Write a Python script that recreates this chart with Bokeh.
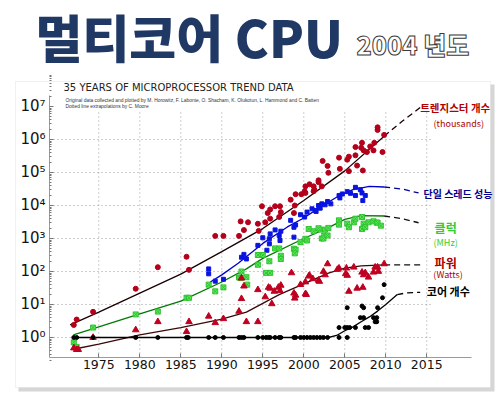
from bokeh.plotting import figure
from bokeh.models import Range1d, FixedTicker, CustomJSTickFormatter, Label, BoxAnnotation
from bokeh.embed import file_html
from bokeh.resources import INLINE

# ---------------- data ----------------
x_ticks = [1975, 1980, 1985, 1990, 1995, 2000, 2005, 2010, 2015]
y_ticks = [1, 10, 100, 1000, 10000, 100000, 1000000, 10000000]
grid_y = [1, 10, 100, 1000, 10000, 100000, 1000000]

# transistors (thousands)
tr_year = [1971.95, 1972.3, 1974.3, 1979.5, 1982.2, 1985.7, 1986.0, 1989.2, 1990.2, 1992.1,
           1992.3, 1993.2, 1992.7, 1994.4, 1994.5, 1995.3, 1995.9, 1994.9, 1995.6, 1995.9,
           1996.5, 1997.1, 1997.0, 1997.2, 1998.4, 1999.0, 1998.9, 1998.8, 1999.7, 2000.2,
           2000.1, 2001.2, 2001.2, 2001.8, 2002.3, 2002.9, 2003.0, 2000.7, 2001.3, 2000.2,
           2001.8, 2002.2, 2004.3, 2004.4, 2005.5, 2005.3, 2005.5, 2006.3, 2006.3, 2006.5,
           2007.1, 2007.0, 2007.3, 2007.7, 2007.2, 2008.1, 2008.5, 2008.6, 2009.0, 2009.0,
           2009.6, 2009.8]
tr_val = [2.4, 3.5, 6, 30, 135, 280, 112, 1200, 1200, 1200,
          3300, 3100, 1800, 2800, 1700, 3100, 4000, 9500, 5900, 7600,
          9500, 9500, 4500, 6300, 15000, 22000, 10000, 5900, 22000, 38000,
          27000, 27000, 38000, 58000, 224000, 158000, 98000, 44000, 30000, 24000,
          51000, 38000, 282000, 129000, 110000, 245000, 302000, 590000, 331000, 162000,
          794000, 562000, 468000, 417000, 115000, 617000, 468000, 794000, 2340000, 1950000,
          417000, 1380000]

# single-thread performance
st_year = [1988.4, 1988.4, 1989.2, 1990.2, 1992.4, 1992.7, 1993.0, 1994.4, 1995.0, 1995.8,
           1995.9, 1996.5, 1997.2, 1997.0, 1997.1, 1995.8, 1995.5, 1998.4, 1998.8, 1999.0,
           1998.8, 1999.6, 2000.1, 2000.4, 2001.0, 2001.4, 2001.8, 2002.2, 2002.9, 2001.5,
           2002.0, 2002.6, 2003.3, 2004.3, 2004.4, 2004.7, 2005.3, 2005.7, 2006.3, 2006.3,
           2006.9, 2007.1, 2007.2, 2007.5]
st_val = [120, 85, 51, 58, 270, 330, 240, 620, 1050, 980,
          1380, 1820, 1660, 1230, 870, 690, 440, 3550, 2190, 2570,
          1100, 5250, 4470, 6310, 7940, 7080, 10000, 11200, 13200, 6610,
          8320, 10500, 11200, 20000, 17000, 22400, 26300, 23400, 35500, 20000,
          30200, 24000, 14100, 20000]

# clock (MHz)
ck_year = [1971.95, 1972.3, 1974.3, 1979.5, 1982.2, 1985.7, 1986.0, 1988.4, 1989.2, 1990.2,
           1992.1, 1992.4, 1992.3, 1993.0, 1993.1, 1994.4, 1994.4, 1995.0, 1995.4, 1995.9,
           1995.8, 1996.5, 1997.0, 1997.2, 1997.2, 1998.8, 1999.0, 1998.9, 1999.6, 2000.2,
           2000.6, 2001.2, 2002.0, 2002.2, 2002.6, 2002.5, 2000.4, 2001.8, 2002.4, 2002.9,
           2003.0, 2004.3, 2004.3, 2005.3, 2005.5, 2006.1, 2006.3, 2007.1, 2007.3, 2007.1,
           2007.5, 2007.9, 2008.5, 2008.9, 2009.0, 2009.4]
ck_val = [0.71, 0.51, 2.0, 5.0, 6.1, 16, 16, 40, 25, 33,
          66, 100, 63, 67, 40, 316, 160, 316, 91, 91,
          204, 500, 500, 300, 240, 490, 457, 355, 776, 980,
          1950, 1660, 1860, 1000, 1860, 1230, 870, 2040, 1000, 1230,
          2090, 3550, 2630, 2820, 2190, 3090, 3980, 4470, 2820, 1950,
          2190, 3090, 3310, 3020, 3020, 2450]

# power (Watts)
pw_year = [1971.95, 1972.3, 1972.5, 1974.3, 1979.5, 1982.2, 1985.7, 1986.0, 1988.4, 1989.2,
           1990.2, 1992.1, 1992.4, 1992.4, 1992.7, 1993.0, 1994.4, 1994.4, 1995.3, 1995.7,
           1995.9, 1996.1, 1996.4, 1996.9, 1997.2, 1997.1, 1998.8, 1999.0, 1998.9, 1998.5,
           2000.2, 2000.7, 2001.1, 2001.8, 2002.4, 2002.9, 2000.2, 1999.6, 2002.6, 2001.9,
           2000.6, 2000.3, 2004.1, 2004.3, 2005.2, 2005.3, 2005.1, 2005.5, 2006.1, 2006.5,
           2007.2, 2007.1, 2007.3, 2007.5, 2007.9, 2008.5, 2008.7, 2009.0, 2009.1, 2009.8]
pw_val = [0.48, 0.43, 0.43, 1.0, 1.7, 3.0, 1.5, 3.0, 4.4, 2.8,
          3.7, 6.2, 15, 63, 36, 3.0, 28, 3.0, 17, 33,
          31, 10.5, 25, 33, 38, 26, 22, 19, 15.5, 91,
          21, 76, 60, 54, 100, 170, 48, 40, 79, 50,
          72, 20, 115, 126, 126, 76, 85, 25, 135, 31,
          33, 95, 79, 91, 67, 95, 135, 135, 100, 170]

# number of cores
co_year = [1971.95, 1972.3, 1974.3, 1979.5, 1982.2, 1985.7, 1985.9, 1988.4, 1989.2, 1990.2,
           1992.1, 1992.4, 1992.7, 1994.4, 1995.0, 1995.4, 1995.7, 1995.9, 1996.5, 1997.0,
           1997.2, 1998.8, 1999.0, 1999.6, 2000.0, 2000.4, 2000.8, 2001.2, 2001.6, 2002.0,
           2002.4, 2002.9, 2004.3, 2005.3, 2004.3, 2005.0, 2005.3, 2005.6, 2006.3, 2006.9,
           2007.3, 2007.9, 2007.5, 2007.1, 2007.3, 2008.5, 2008.7, 2008.9, 2008.9, 2009.0,
           2009.6, 2009.8, 2005.3]
co_val = [1, 1, 1, 1, 1, 1, 1, 1, 1, 1,
          1, 1, 1, 1, 1, 1, 1, 1, 1, 1,
          1, 1, 1, 1, 1, 1, 1, 1, 1, 1,
          1, 1, 1, 1, 2, 2, 2, 2, 2, 4,
          4, 2, 2, 9, 8, 4, 3, 3, 4, 8,
          16, 40, 8]

# trend curves (solid part, then dotted extrapolation)
tr_fit_year = [1971.5, 1975, 1980, 1985, 1990, 1995, 2000, 2005, 2009.8]
tr_fit_val = [2.4, 5.9, 22, 83, 400, 2000, 14100, 112000, 1260000]
tr_ext_year = [2009.8, 2012, 2014.2]
tr_ext_val = [1260000, 3550000, 9300000]

st_fit_year = [1988.6, 1990, 1992, 1995, 1998, 2000, 2002, 2004, 2006, 2008, 2009.8]
st_fit_val = [48, 79, 178, 710, 2240, 4170, 8900, 17800, 30200, 38000, 36300]
st_ext_year = [2009.8, 2012, 2014]
st_ext_val = [36300, 31600, 24000]

ck_fit_year = [1971.9, 1975, 1980, 1985, 1990, 1993, 1995, 2000, 2003, 2005, 2007, 2009.8]
ck_fit_val = [1.2, 2.1, 5.2, 12.6, 48, 120, 250, 1000, 2140, 3800, 4900, 4800]
ck_ext_year = [2009.8, 2012, 2014]
ck_ext_val = [4800, 4000, 3000]

pw_fit_year = [1971.9, 1975, 1980, 1985, 1990, 1993, 1997, 2000, 2003, 2005, 2007, 2009.8]
pw_fit_val = [0.44, 0.63, 1.2, 2.0, 3.6, 5.9, 20, 42, 89, 126, 148, 158]
pw_ext_year = [2009.8, 2012, 2014.2]
pw_ext_val = [158, 158, 158]

co_fit_year = [1971.9, 2003, 2004, 2005, 2006, 2007, 2008, 2009, 2010, 2011.4]
co_fit_val = [1, 1, 1.15, 1.6, 2.1, 3.0, 4.2, 6.3, 10, 20]
co_ext_year = [2011.4, 2012.5, 2014.2]
co_ext_val = [20, 22.4, 23.4]

# ---------------- figure ----------------
# the frame covers the whole canvas; the axes are pinned inside it
X0, X1 = 1963.01, 2023.87
Y0, Y1 = 10 ** -1.788, 10 ** 10.212
XA, YA = 1968.99, 10 ** -0.606          # axis positions
XE, YE = 2020.45, 10 ** 7.333           # axis ends

p = figure(width=499, height=396, output_backend="svg", toolbar_location=None, title=None,
           y_axis_type="log", x_range=Range1d(X0, X1), y_range=Range1d(Y0, Y1),
           min_border=0, min_border_left=0, min_border_right=0,
           min_border_top=0, min_border_bottom=0)
p.grid.visible = False
p.outline_line_color = None
p.background_fill_color = "white"
p.border_fill_color = "white"

# panel with shadow (screen units: x from left, y from bottom)
p.add_layout(BoxAnnotation(left=18, right=494, top=312, bottom=5,
                           left_units="screen", right_units="screen",
                           top_units="screen", bottom_units="screen",
                           fill_color="#d6d6d6", fill_alpha=1.0, line_color=None, level="underlay"))
p.add_layout(BoxAnnotation(left=15, right=490, top=315, bottom=9,
                           left_units="screen", right_units="screen",
                           top_units="screen", bottom_units="screen",
                           fill_color="white", fill_alpha=1.0, line_color="#cfcfcf",
                           line_width=1, level="underlay"))

# dotted grid
p.segment(x0=x_ticks, y0=[YA] * len(x_ticks), x1=x_ticks, y1=[10 ** 6.85] * len(x_ticks),
          line_color="#9a9a9a", line_width=1, line_dash="1 3")
p.segment(x0=[XA] * len(grid_y), y0=grid_y, x1=[2015.5] * len(grid_y), y1=grid_y,
          line_color="#9a9a9a", line_width=1, line_dash="1 3")

# axes
xax = p.xaxis[0]
yax = p.yaxis[0]
xax.fixed_location = YA
yax.fixed_location = XA
xax.bounds = (XA, XE)
yax.bounds = (YA, YE)
xax.ticker = FixedTicker(ticks=x_ticks)
minor = [m * 10 ** k for k in range(-1, 8) for m in range(2, 10)]
yax.ticker = FixedTicker(ticks=y_ticks, minor_ticks=minor)
yax.formatter = CustomJSTickFormatter(code="""
const sup = {'0':'\u2070','1':'\u00b9','2':'\u00b2','3':'\u00b3','4':'\u2074','5':'\u2075','6':'\u2076','7':'\u2077','8':'\u2078','9':'\u2079','-':'\u207b'};
const e = Math.round(Math.log10(tick));
return '10' + String(e).split('').map(c => sup[c]).join('');
""")
for ax in (xax, yax):
    ax.axis_line_color = "#9a9a9a"
    ax.major_tick_line_color = "#777777"
    ax.minor_tick_line_color = "#777777"
    ax.major_tick_in = 4
    ax.major_tick_out = 0
    ax.minor_tick_in = 2
    ax.minor_tick_out = 0
    ax.major_label_text_font = "DejaVu Sans"
    ax.major_label_text_color = "#111111"
xax.major_label_text_font_size = "12.5px"
xax.major_label_standoff = 3
yax.major_label_text_font_size = "15px"
yax.major_label_standoff = 4

# trend lines
p.line(tr_fit_year, tr_fit_val, line_color="#1a0000", line_width=1.3)
p.line(tr_ext_year, tr_ext_val, line_color="#1a0000", line_width=1.3, line_dash="6 4")
p.line(st_fit_year, st_fit_val, line_color="#0000cc", line_width=1.3)
p.line(st_ext_year, st_ext_val, line_color="#000099", line_width=1.3, line_dash="6 4")
p.line(ck_fit_year, ck_fit_val, line_color="#007a00", line_width=1.3)
p.line(ck_ext_year, ck_ext_val, line_color="#111111", line_width=1.3, line_dash="6 4")
p.line(pw_fit_year, pw_fit_val, line_color="#3a0808", line_width=1.3)
p.line(pw_ext_year, pw_ext_val, line_color="#111111", line_width=1.3, line_dash="6 4")
p.line(co_fit_year, co_fit_val, line_color="#000000", line_width=1.3)
p.line(co_ext_year, co_ext_val, line_color="#000000", line_width=1.3, line_dash="6 4")

# markers
p.scatter(tr_year, tr_val, marker="circle", size=5, fill_color="#b5001b", line_color="#b5001b")
p.scatter(st_year, st_val, marker="square", size=4, fill_color="#0a14e0", line_color="#0a14e0")
p.scatter(ck_year, ck_val, marker="square_x", size=5, fill_color="#5ee85e", line_color="#2fc42f")
p.scatter(pw_year, pw_val, marker="triangle", size=6.5, fill_color="#c00020", line_color="#c00020")
p.scatter(co_year, co_val, marker="circle", size=4, fill_color="#000000", line_color="#000000")

KR = "Noto Sans CJK KR"
KR_HEAVY = "'Noto Sans CJK KR Black', 'Noto Sans CJK KR'"


def lab(**kw):
    base = dict(text_baseline="middle", text_align="left")
    base.update(kw)
    p.add_layout(Label(**base))


# headline (outside the chart panel)
lab(x=35, y=361, x_units="screen", y_units="screen", text="멀티코어 CPU",
    text_font=KR_HEAVY, text_font_size="51px", text_font_style="bold", text_color="#1f3864")
lab(x=356, y=353, x_units="screen", y_units="screen", text="2004 년도",
    text_font=KR_HEAVY, text_font_size="25px", text_font_style="bold", text_color="white",
    text_outline_color="#3a3a3a")

# chart title texts
lab(x=63, y=309, x_units="screen", y_units="screen",
    text="35 YEARS OF MICROPROCESSOR TREND DATA",
    text_font="DejaVu Sans", text_font_size="10px", text_color="#222222")
lab(x=65, y=296, x_units="screen", y_units="screen",
    text="Original data collected and plotted by M. Horowitz, F. Labonte, O. Shacham, K. Olukotun, L. Hammond and C. Batten",
    text_font="Liberation Sans", text_font_size="4.9px", text_color="#333333")
lab(x=65, y=290, x_units="screen", y_units="screen",
    text="Dotted line extrapolations by C. Moore",
    text_font="Liberation Sans", text_font_size="4.9px", text_color="#333333")

# series labels
lab(x=2014.2, y=10 ** 6.97, text="트렌지스터 개수", text_font=KR, text_font_size="10.5px",
    text_font_style="bold", text_color="#b00000")
lab(x=2018.9, y=10 ** 6.48, text="(thousands)", text_font=KR, text_font_size="9px",
    text_color="#b00000", text_align="center")
lab(x=2014.6, y=10 ** 4.36, text="단일 스레드 성능", text_font=KR, text_font_size="10px",
    text_font_style="bold", text_color="#000090")
lab(x=2017.3, y=10 ** 3.33, text="클럭", text_font=KR, text_font_size="12px",
    text_font_style="bold", text_color="#33cc33", text_align="center")
lab(x=2017.3, y=10 ** 2.88, text="(MHz)", text_font=KR, text_font_size="9px",
    text_color="#33cc33", text_align="center")
lab(x=2017.3, y=10 ** 2.27, text="파워", text_font=KR, text_font_size="12px",
    text_font_style="bold", text_color="#b00000", text_align="center")
lab(x=2017.6, y=10 ** 1.91, text="(Watts)", text_font=KR, text_font_size="9px",
    text_color="#b00000", text_align="center")
lab(x=2015.0, y=10 ** 1.42, text="코어 개수", text_font=KR, text_font_size="11px",
    text_font_style="bold", text_color="#000000")

open("out.html", "w").write(file_html(p, INLINE))
